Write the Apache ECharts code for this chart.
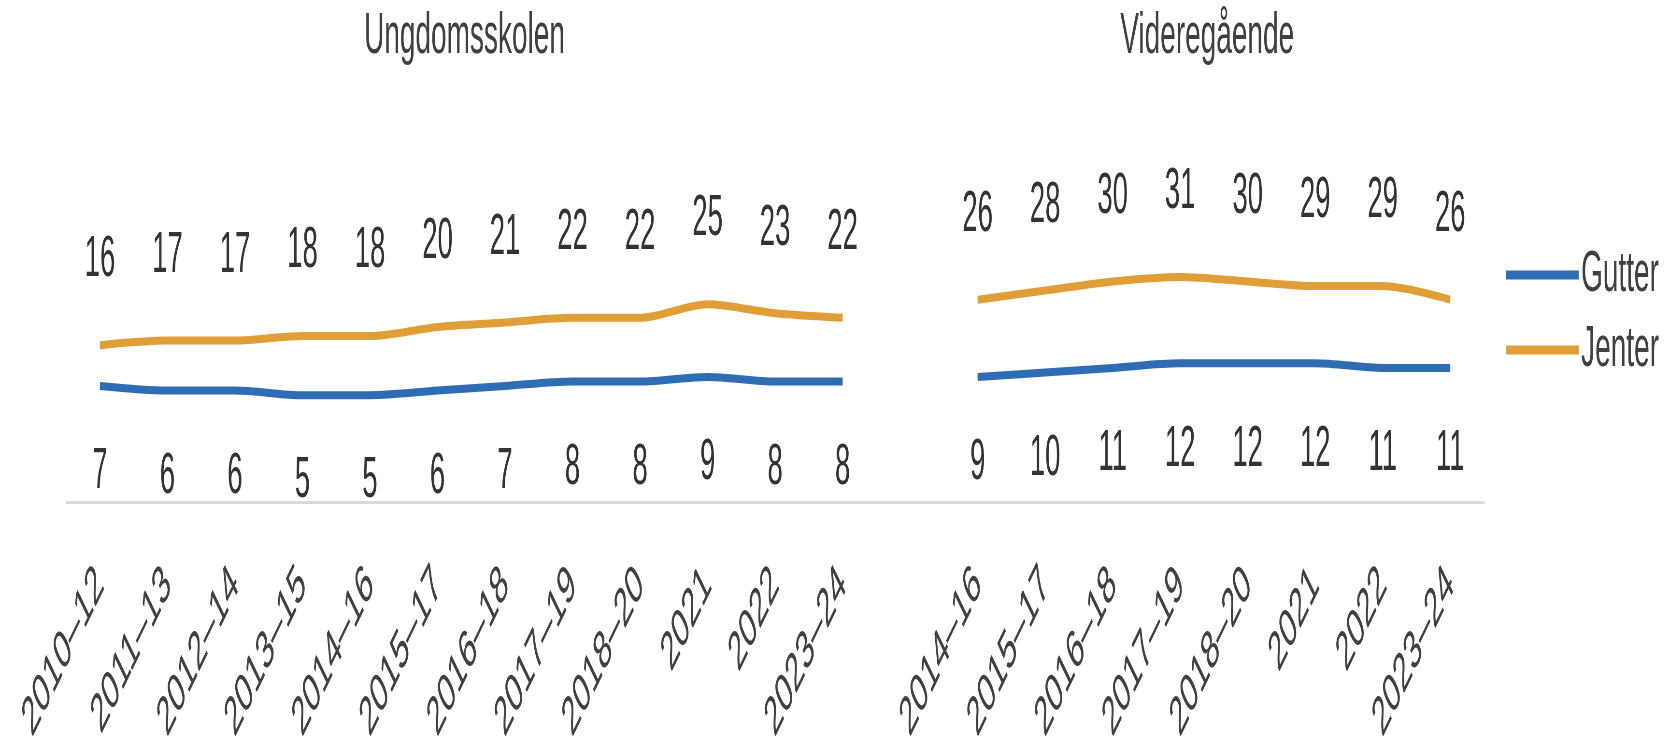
<!DOCTYPE html>
<html>
<head>
<meta charset="utf-8">
<title></title>
<script src="https://cdn.jsdelivr.net/npm/echarts@6/dist/echarts.min.js"></script>
<style>
html, body { margin: 0; padding: 0; overflow: hidden; background: #fff; }
#wrap { width: 1669px; height: 749px; overflow: hidden; }
/* the original graphic is horizontally compressed, so draw wide and squeeze */
#mainChart { width: 3455px; height: 749px; transform: scaleX(0.48307); transform-origin: 0 0; }
</style>
</head>
<body>
<div id="wrap"><div id="mainChart"></div></div>
<script type="text/javascript">
var groupNames = ['Ungdomsskolen', 'Videregående'];
var ungYears = ['2010–12', '2011–13', '2012–14', '2013–15', '2014–16', '2015–17', '2016–18', '2017–19', '2018–20', '2021', '2022', '2023–24'];
var vgsYears = ['2014–16', '2015–17', '2016–18', '2017–19', '2018–20', '2021', '2022', '2023–24'];
var ungGutter = [7, 6, 6, 5, 5, 6, 7, 8, 8, 9, 8, 8];
var ungJenter = [16, 17, 17, 18, 18, 20, 21, 22, 22, 25, 23, 22];
var vgsGutter = [9, 10, 11, 12, 12, 12, 11, 11];
var vgsJenter = [26, 28, 30, 31, 30, 29, 29, 26];

var font = "'Liberation Sans', Arial, sans-serif";
var blue = '#2E6DB4';
var orange = '#E09E36';

// one axis, empty slot between the two school levels
var categories = ungYears.concat([''], vgsYears);
var gutter = ungGutter.concat([null], vgsGutter);
var jenter = ungJenter.concat([null], vgsJenter);

var chart = echarts.init(document.getElementById('mainChart'));

function lineSeries(name, data, color, pos, dist) {
	return {
		name: name,
		type: 'line',
		data: data,
		smooth: 0.3,
		symbol: 'circle',
		symbolSize: 1,
		lineStyle: { width: 8, color: color },
		itemStyle: { color: color },
		label: {
			show: true,
			position: pos,
			distance: dist,
			fontSize: 57,
			lineHeight: 56,
			fontFamily: font,
			color: '#333333'
		},
		emphasis: { disabled: true }
	};
}

var option = {
	backgroundColor: '#ffffff',
	animation: false,
	textStyle: { fontFamily: font },
	legend: {
		data: ['Gutter', 'Jenter'],
		orient: 'vertical',
		left: 3118,
		top: 240,
		padding: 0,
		itemGap: 5,
		itemWidth: 150,
		itemHeight: 9,
		icon: 'rect',
		textStyle: { fontSize: 58, lineHeight: 70, color: '#404040', fontFamily: font }
	},
	grid: { left: 137, right: 383, top: 236, bottom: 244 },
	xAxis: {
		type: 'category',
		data: categories,
		boundaryGap: true,
		axisLine: { onZero: false, lineStyle: { color: '#d9d9d9', width: 3 } },
		axisTick: { show: false },
		axisLabel: {
			interval: 0,
			rotate: 45,
			margin: 74,
			fontSize: 55,
			color: '#404040',
			fontFamily: font
		}
	},
	yAxis: {
		type: 'value',
		show: false,
		min: -18.5,
		max: 40
	},
	series: [
		lineSeries('Gutter', gutter, blue, 'bottom', 58),
		lineSeries('Jenter', jenter, orange, 'top', 56)
	]
};
chart.setOption(option);

// group headings centred over their own categories
var ranges = [[0, ungYears.length - 1], [ungYears.length + 1, categories.length - 1]];
var titles = [];
for (var i = 0; i < groupNames.length; i++) {
	var a = chart.convertToPixel({ xAxisIndex: 0 }, ranges[i][0]);
	var b = chart.convertToPixel({ xAxisIndex: 0 }, ranges[i][1]);
	titles.push({
		type: 'text',
		x: (a + b) / 2 - 14,
		y: 37,
		style: {
			text: groupNames[i],
			fill: '#404040',
			fontSize: 58,
			fontFamily: font,
			textAlign: 'center',
			textVerticalAlign: 'middle',
			align: 'center',
			verticalAlign: 'middle'
		}
	});
}
chart.setOption({ graphic: titles });
</script>
</body>
</html>
